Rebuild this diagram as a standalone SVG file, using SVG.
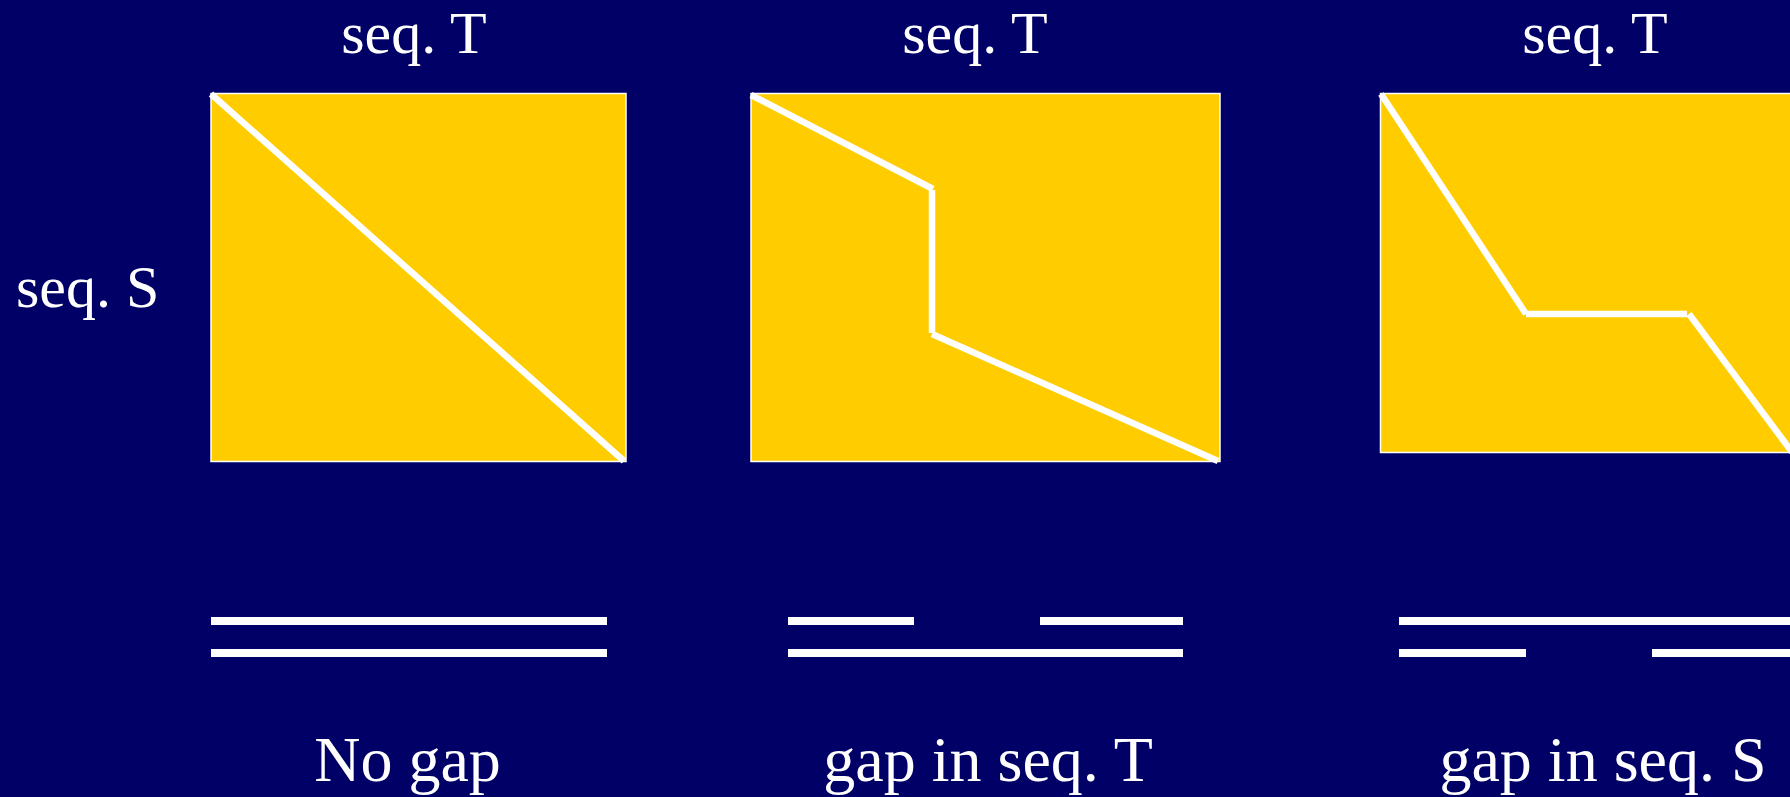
<svg xmlns="http://www.w3.org/2000/svg" width="1790" height="797" viewBox="0 0 1790 797">
<style>
.bg{fill:#000066}
.box{fill:#FFCC00;stroke:#FFFFFF;stroke-width:1.5}
.path{stroke:#FFFFFF;stroke-width:6.5;fill:none;stroke-linecap:butt}
.bar{fill:#FFFFFF}
.lbl{font-family:"Liberation Serif","Times New Roman",serif;fill:#FFFFFF}
.t1{font-size:60px}
.t2{font-size:64px}
</style>
<rect class="bg" x="0" y="0" width="1790" height="797"/>
<g id="panel1">
<text class="lbl t1" x="414" y="53" text-anchor="middle">seq. T</text>
<text class="lbl t1" x="16" y="307">seq. S</text>
<rect class="box" x="211" y="93.5" width="415" height="368"/>
</g>
<g id="panel2">
<text class="lbl t1" x="975" y="53" text-anchor="middle">seq. T</text>
<rect class="box" x="751" y="93.5" width="469" height="368"/>
</g>
<g id="panel3">
<text class="lbl t1" x="1595" y="53" text-anchor="middle">seq. T</text>
<rect class="box" x="1380.5" y="93.5" width="412" height="359"/>
</g>
<g id="connectors">
<line class="path" x1="211" y1="94" x2="624" y2="461"/>
<line class="path" x1="751" y1="95" x2="933" y2="189"/>
<line class="path" x1="932" y1="190" x2="932" y2="333"/>
<line class="path" x1="932" y1="334" x2="1218" y2="461"/>
<line class="path" x1="1381" y1="94" x2="1526" y2="314"/>
<line class="path" x1="1526" y1="314" x2="1687" y2="314"/>
<line class="path" x1="1689" y1="314" x2="1792" y2="452"/>
</g>
<g id="alignment1">
<rect class="bar" x="211" y="617" width="396" height="8"/>
<rect class="bar" x="211" y="649" width="396" height="8"/>
<text class="lbl t2" x="407.5" y="781" text-anchor="middle">No gap</text>
</g>
<g id="alignment2">
<rect class="bar" x="788" y="617" width="126" height="8"/>
<rect class="bar" x="1040" y="617" width="143" height="8"/>
<rect class="bar" x="788" y="649" width="395" height="8"/>
<text class="lbl t2" x="988" y="781" text-anchor="middle">gap in seq. T</text>
</g>
<g id="alignment3">
<rect class="bar" x="1399" y="617" width="400" height="8"/>
<rect class="bar" x="1399" y="649" width="127" height="8"/>
<rect class="bar" x="1652" y="649" width="150" height="8"/>
<text class="lbl t2" x="1603" y="781" text-anchor="middle">gap in seq. S</text>
</g>
</svg>
